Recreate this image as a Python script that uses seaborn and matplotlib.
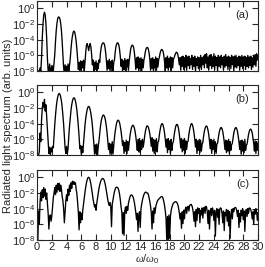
import numpy as np
import pandas as pd
import matplotlib
matplotlib.use("Agg")
import matplotlib.pyplot as plt
import seaborn as sns

# ---- data (log10 of spectrum, step 0.1 in omega) ----
omega = np.round(np.arange(301) * 0.1, 1)

log_a = [
    -8, -8, -8, -8, -7.6, -8, -6.4, -3.8, -2.0, -0.85,
    -0.5, -0.85, -2.0, -3.8, -6.4, -8, -8, -7.1, -8, -8,
    -7.3, -8, -8, -7.0, -5.9, -4.2, -2.8, -1.9, -1.3, -1.1,
    -1.15, -1.35, -1.9, -2.8, -4.2, -5.9, -7.6, -8, -7.2, -8,
    -7.4, -8, -7.1, -8, -7.3, -6.4, -5.2, -4.2, -3.5, -3.05,
    -2.9, -3.05, -3.5, -4.2, -5.2, -6.4, -7.8, -6.9, -8, -6.7,
    -7.9, -6.8, -7.6, -6.6, -8, -6.9, -5.6, -4.7, -4.5, -4.9,
    -5.4, -4.8, -4.5, -4.9, -5.9, -7.2, -6.6, -8, -6.9, -7.8,
    -6.7, -8, -7.0, -7.7, -6.6, -6.9, -5.7, -5.0, -4.6, -4.45,
    -4.4, -4.5, -4.9, -5.6, -6.6, -7.9, -6.7, -7.7, -6.5, -8,
    -6.8, -7.6, -6.6, -8, -6.9, -6.6, -5.6, -4.9, -4.55, -4.4,
    -4.45, -4.7, -5.3, -6.2, -7.4, -6.5, -8, -6.7, -7.8, -6.4,
    -8, -6.6, -7.5, -6.5, -7.9, -6.7, -6.0, -5.2, -4.85, -4.7,
    -4.75, -5.0, -5.6, -6.5, -7.8, -6.3, -7.6, -6.2, -8, -6.4,
    -7.7, -6.3, -8, -6.5, -7.6, -6.6, -6.1, -5.5, -5.15, -5.0,
    -5.0, -5.2, -5.7, -6.5, -7.9, -6.4, -7.7, -6.3, -8, -6.5,
    -7.6, -6.2, -7.9, -6.4, -7.5, -6.6, -6.2, -5.7, -5.4, -5.25,
    -5.3, -5.5, -6.0, -6.8, -8, -6.3, -7.6, -6.1, -7.9, -6.4,
    -7.5, -6.2, -8, -6.3, -7.6, -6.5, -6.3, -6.0, -5.75, -5.6,
    -5.65, -5.9, -6.4, -7.2, -6.3, -7.9, -6.2, -7.4, -6.1, -7.8,
    -6.3, -7.5, -6.0, -7.9, -6.2, -7.3, -6.1, -7.7, -6.4, -7.2,
    -6.0, -7.8, -6.3, -7.4, -6.1, -8, -6.4, -7.3, -6.2, -7.7,
    -6.3, -7.5, -6.0, -7.8, -6.3, -7.2, -6.1, -7.6, -5.9, -7.0,
    -5.8, -7.6, -6.2, -7.9, -6.0, -7.3, -5.9, -7.7, -6.2, -7.4,
    -5.8, -7.8, -6.1, -7.3, -6.3, -8, -6.0, -7.4, -6.2, -7.6,
    -6.0, -7.2, -6.3, -7.9, -6.1, -7.5, -5.9, -7.3, -6.2, -7.8,
    -6.1, -7.4, -6.3, -7.7, -6.0, -7.2, -6.2, -8, -6.1, -7.5,
    -6.0, -7.6, -6.3, -7.3, -6.1, -7.9, -6.2, -7.4, -6.0, -7.7,
    -6.2, -7.3, -6.1, -7.8, -6.3, -7.4, -6.0, -7.6, -6.2, -7.3,
    -6.1, -7.8, -6.3, -7.5, -6.0, -7.2, -5.9, -7.4, -5.8, -6.6,
    -6.0,
]

log_b = [
    -8, -8, -8, -7.6, -5.2, -6.3, -3.6, -2.1, -1.3, -1.9,
    -0.9, -2.4, -1.6, -3.2, -4.8, -6.4, -7.8, -7.0, -8, -7.1,
    -7.6, -6.9, -7.1, -5.5, -4.1, -2.9, -1.9, -1.1, -0.6, -0.26,
    -0.15, -0.26, -0.6, -1.1, -1.9, -2.9, -4.1, -5.5, -7.1, -7.8,
    -6.9, -7.8, -7.2, -5.65, -4.35, -3.25, -2.3, -1.6, -1.1, -0.8,
    -0.7, -0.8, -1.1, -1.6, -2.3, -3.25, -4.35, -5.65, -7.2, -6.8,
    -7.9, -6.9, -7.7, -6.5, -5.3, -4.2, -3.35, -2.7, -2.2, -1.9,
    -1.8, -1.9, -2.2, -2.7, -3.35, -4.2, -5.3, -6.5, -7.9, -6.7,
    -7.8, -6.6, -8, -6.9, -6.2, -5.2, -4.35, -3.7, -3.25, -3.0,
    -2.9, -3.0, -3.25, -3.7, -4.35, -5.2, -6.2, -7.3, -6.5, -7.9,
    -6.6, -7.7, -6.3, -7.9, -6.8, -5.8, -5.0, -4.4, -3.9, -3.65,
    -3.55, -3.65, -3.9, -4.4, -5.0, -5.8, -6.8, -6.2, -7.8, -6.4,
    -7.5, -6.1, -7.8, -6.3, -7.4, -6.45, -5.65, -5.0, -4.55, -4.3,
    -4.2, -4.3, -4.55, -5.0, -5.65, -6.45, -7.4, -6.0, -7.6, -5.9,
    -7.7, -6.2, -7.3, -6.0, -7.0, -6.4, -5.6, -5.0, -4.55, -4.3,
    -4.3, -4.45, -4.8, -5.3, -6.0, -6.9, -5.8, -7.5, -6.0, -7.8,
    -6.1, -7.4, -5.9, -7.6, -6.4, -6.2, -5.4, -4.8, -4.3, -4.05,
    -4.0, -4.2, -4.6, -5.2, -6.0, -7.0, -6.0, -7.7, -5.9, -7.3,
    -6.2, -7.8, -6.0, -7.4, -6.5, -6.3, -5.5, -4.9, -4.4, -4.15,
    -4.1, -4.25, -4.65, -5.3, -6.1, -7.1, -5.9, -7.6, -6.1, -7.4,
    -5.9, -7.8, -6.2, -7.3, -6.4, -6.2, -5.4, -4.8, -4.35, -4.05,
    -4.0, -4.2, -4.6, -5.2, -6.0, -7.0, -6.0, -7.8, -6.2, -7.4,
    -6.0, -7.7, -6.1, -7.5, -6.6, -6.4, -5.6, -5.0, -4.6, -4.35,
    -4.3, -4.45, -4.85, -5.4, -6.2, -7.2, -6.0, -7.8, -6.2, -7.3,
    -6.0, -7.6, -6.3, -7.8, -6.6, -6.5, -5.8, -5.2, -4.8, -4.55,
    -4.5, -4.65, -5.0, -5.6, -6.3, -7.3, -6.1, -7.7, -6.2, -7.5,
    -6.0, -7.8, -6.3, -7.4, -6.7, -6.5, -5.8, -5.2, -4.8, -4.55,
    -4.5, -4.65, -5.0, -5.6, -6.3, -7.3, -6.2, -7.9, -6.1, -7.5,
    -6.3, -7.7, -6.0, -7.4, -6.8, -6.6, -6.0, -5.4, -5.0, -4.75,
    -4.7, -4.85, -5.2, -5.8, -6.5, -7.5, -6.2, -7.8, -6.3, -7.4,
    -6.5,
]

log_c = [
    -8, -8, -4.3, -6.0, -3.2, -1.9, -3.0, -1.6, -2.6, -1.3,
    -2.4, -1.5, -2.8, -2.0, -3.4, -4.6, -6.6, -5.0, -4.8, -5.6,
    -4.9, -3.8, -2.6, -2.0, -1.3, -2.2, -1.0, -1.9, -0.8, -1.6,
    -0.75, -1.8, -1.0, -1.5, -2.4, -3.0, -4.0, -5.8, -4.3, -3.0,
    -2.2, -3.0, -1.5, -2.3, -1.0, -1.8, -0.7, -1.4, -0.5, -0.9,
    -0.55, -0.9, -0.7, -1.5, -2.1, -3.2, -4.5, -6.7, -4.4, -5.8,
    -4.6, -5.4, -4.2, -3.4, -2.6, -1.9, -1.25, -0.7, -0.3, -0.05,
    0.0, -0.1, -0.4, -0.85, -1.45, -2.1, -2.8, -3.3, -3.8, -3.5,
    -4.2, -3.3, -2.7, -2.0, -1.4, -0.95, -0.6, -0.35, -0.2, -0.15,
    -0.2, -0.35, -0.7, -1.15, -1.7, -2.3, -2.9, -3.3, -3.6, -3.2,
    -3.7, -6.3, -3.4, -2.9, -2.3, -1.85, -1.5, -1.3, -1.25, -1.3,
    -1.4, -1.7, -2.2, -2.9, -3.8, -4.4, -7.2, -4.5, -7.4, -4.3,
    -3.8, -4.6, -3.7, -4.2, -3.3, -2.9, -2.5, -2.3, -2.25, -2.3,
    -2.45, -2.75, -3.2, -3.8, -4.5, -5.4, -4.6, -6.9, -4.8, -4.4,
    -6.4, -4.0, -3.4, -2.9, -2.5, -2.2, -2.0, -1.9, -1.9, -2.0,
    -2.0, -2.2, -2.6, -3.1, -3.7, -4.5, -6.6, -4.3, -5.8, -3.9,
    -4.6, -3.8, -3.4, -3.1, -2.9, -2.8, -2.7, -2.6, -2.5, -2.45,
    -2.5, -2.7, -3.1, -3.6, -4.3, -5.2, -8.0, -5.0, -8.0, -4.8,
    -7.8, -5.0, -4.2, -3.8, -3.5, -3.3, -3.2, -3.15, -3.1, -3.15,
    -3.25, -3.5, -3.9, -4.5, -5.3, -4.6, -6.5, -4.4, -5.9, -4.2,
    -5.3, -4.1, -3.8, -4.6, -3.9, -3.7, -4.3, -3.6, -3.5, -3.45,
    -3.6, -3.9, -4.5, -5.6, -4.4, -6.3, -4.1, -5.5, -3.9, -4.6,
    -4.0, -5.8, -4.2, -4.8, -3.9, -5.2, -4.1, -3.8, -4.6, -3.7,
    -3.8, -4.4, -5.9, -4.2, -6.6, -4.5, -4.0, -4.9, -3.9, -4.3,
    -5.5, -4.2, -7.5, -4.6, -4.0, -5.1, -4.1, -6.0, -4.0, -3.9,
    -4.0, -4.6, -5.8, -4.3, -6.8, -4.5, -4.9, -4.1, -5.6, -4.2,
    -6.2, -4.4, -7.8, -4.8, -4.1, -5.3, -4.0, -4.4, -3.9, -3.85,
    -3.9, -4.3, -5.0, -4.2, -6.4, -4.6, -5.7, -4.2, -4.9, -4.0,
    -5.4, -4.3, -6.9, -4.5, -4.1, -5.0, -4.0, -4.6, -3.9, -3.95,
    -4.1, -4.5, -5.3, -4.4, -6.0, -4.2, -4.7, -4.0, -4.4, -5.5,
    -4.5,
]

panel_labels = ["(a)", "(b)", "(c)"]
xticks = list(range(0, 31, 2))
yticks = [1e-8, 1e-6, 1e-4, 1e-2, 1e0]
ylabel = "Radiated light spectrum (arb. units)"
xlabel = r"$\omega/\omega_0$"

# ---- style ----
sns.set_style("ticks")
plt.rcParams["font.family"] = ["Liberation Sans", "DejaVu Sans"]
plt.rcParams["mathtext.fontset"] = "custom"
plt.rcParams["mathtext.rm"] = "Liberation Sans"
plt.rcParams["mathtext.it"] = "Liberation Serif:italic"

fig = plt.figure(figsize=(2.65, 2.67), dpi=100)
left, width = 0.140, 0.834
bottoms = [0.734, 0.4195, 0.101]
height = 0.262

for i, (series, lab) in enumerate(zip([log_a, log_b, log_c], panel_labels)):
    ax = fig.add_axes([left, bottoms[i], width, height])
    df = pd.DataFrame({"omega": omega, "S": np.power(10.0, np.array(series, dtype=float))})
    sns.lineplot(data=df, x="omega", y="S", ax=ax, color="black",
                 linewidth=0.95, estimator=None, sort=False)
    ax.set_yscale("log")
    ax.set_xlim(0, 30)
    ax.set_ylim(1e-8, 10 ** 0.92)
    ax.set_yticks(yticks)
    ax.yaxis.set_minor_locator(matplotlib.ticker.NullLocator())
    ax.set_xticks(xticks)
    ax.tick_params(direction="in", top=True, right=True, length=4, width=0.8,
                   labelsize=8, pad=1.5)
    ax.set_ylabel("")
    if i < 2:
        ax.set_xticklabels([])
        ax.set_xlabel("")
    else:
        ax.set_xlabel(xlabel, fontsize=8, labelpad=0)
    for sp in ax.spines.values():
        sp.set_linewidth(0.8)
    ax.text(0.96, 0.80, lab, transform=ax.transAxes, ha="right", va="center",
            fontsize=8)

fig.text(0.03, 0.53, ylabel, rotation=90, ha="center", va="center", fontsize=8)

fig.savefig("out.png", dpi=100)
